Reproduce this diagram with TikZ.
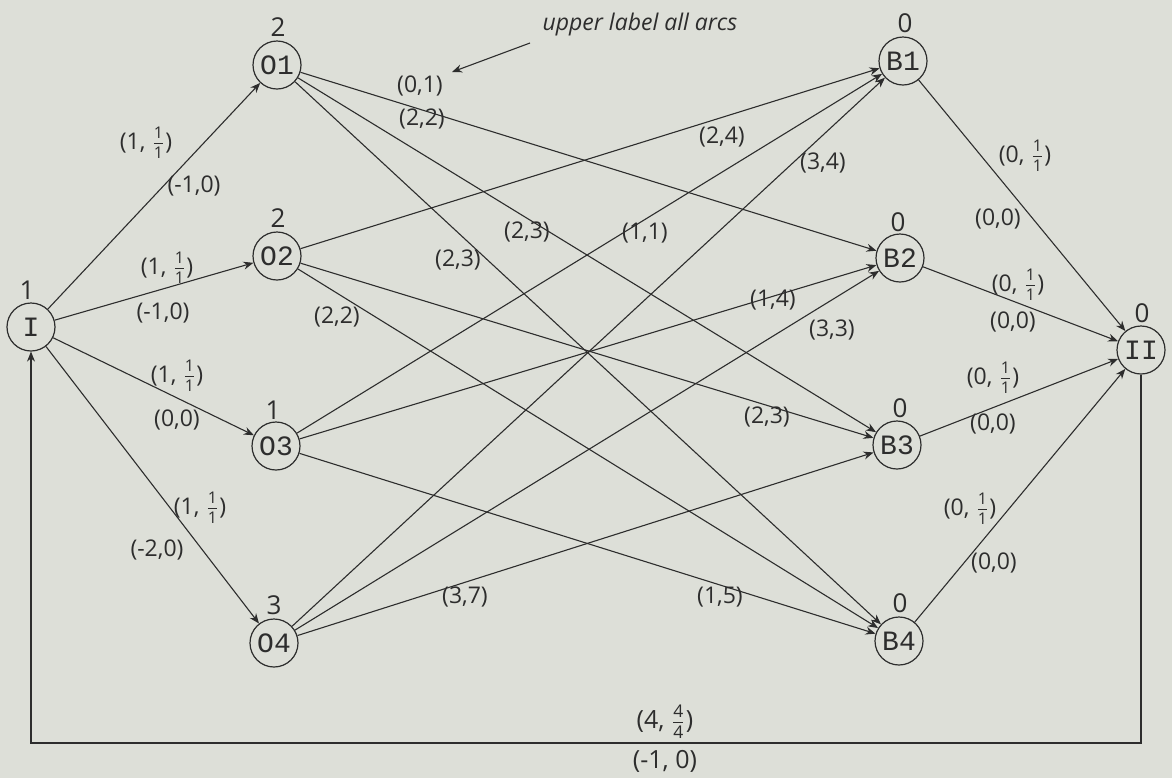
\documentclass[tikz,border=0pt]{standalone}
\usepackage{fontspec}
\usepackage{amsmath}
\setmainfont{Open Sans}
\newfontfamily\typew{Liberation Mono}
\usetikzlibrary{arrows.meta}
\definecolor{paper}{RGB}{221,223,216}
\definecolor{ink}{RGB}{45,45,45}
\newcommand{\fr}[2]{\ensuremath{\genfrac{}{}{0.5pt}{}{\text{#1\rule[-0.35ex]{0pt}{0.35ex}}}{\text{\rule{0pt}{1.6ex}#2}}}}
\begin{document}
\begin{tikzpicture}[x=0.5pt,y=-0.5pt,
  vtx/.style={circle,draw=ink,line width=0.6pt,minimum size=24pt,inner sep=0pt,font=\typew\fontsize{14}{14}\selectfont,text=ink},
  arc/.style={draw=ink,line width=0.55pt,-{Stealth[length=5pt,width=4pt]}},
  lab/.style={font=\fontsize{11.5}{12}\selectfont,text=ink,inner sep=0pt},
  num/.style={font=\fontsize{13}{13}\selectfont,text=ink,inner sep=0pt}]
\fill[paper] (0,0) rectangle (1172,778);
\useasboundingbox (0,0) rectangle (1172,778);
% vertices
\node[vtx] (I)  at (31,327)  {I};
\node[vtx] (O1) at (277,65)  {O1};
\node[vtx] (O2) at (277,256) {O2};
\node[vtx] (O3) at (276,446) {O3};
\node[vtx] (O4) at (274,643) {O4};
\node[vtx] (B1) at (903,61)  {B1};
\node[vtx] (B2) at (900,258) {B2};
\node[vtx] (B3) at (897,445) {B3};
\node[vtx] (B4) at (899,641) {B4};
\node[vtx] (II) at (1141,350) {II};
% numbers above vertices
\node[num] (nI)  at (27,290)  {1};
\node[num] (nO1) at (278,27)  {2};
\node[num] (nO2) at (278,218) {2};
\node[num] (nO3) at (273,410) {1};
\node[num] (nO4) at (274,605) {3};
\node[num] (nB1) at (905,23)  {0};
\node[num] (nB2) at (898,222) {0};
\node[num] (nB3) at (900,408) {0};
\node[num] (nB4) at (900,603) {0};
\node[num] (nII) at (1142,313) {0};
% source arcs
\draw[arc] (I) -- (O1);
\draw[arc] (I) -- (O2);
\draw[arc] (I) -- (O3);
\draw[arc] (I) -- (O4);
% middle arcs
\draw[arc] (O1) -- (B2);
\draw[arc] (O1) -- (B3);
\draw[arc] (O1) -- (B4);
\draw[arc] (O2) -- (B1);
\draw[arc] (O2) -- (B3);
\draw[arc] (O2) -- (B4);
\draw[arc] (O3) -- (B1);
\draw[arc] (O3) -- (B2);
\draw[arc] (O3) -- (B4);
\draw[arc] (O4) -- (B1);
\draw[arc] (O4) -- (B2);
\draw[arc] (O4) -- (B3);
% sink arcs
\draw[arc] (B1) -- (II);
\draw[arc] (B2) -- (II);
\draw[arc] (B3) -- (II);
\draw[arc] (B4) -- (II);
% return arc
\coordinate (bot) at (0,743);
\draw[arc] (II.south) -- (II.south |- bot) -- (I.south |- bot) -- (I.south);
% labels: source arcs
\node[lab] (l1a) at (146,143) {(1, \fr{1}{1})};
\node[lab] (l1b) at (194,186) {(-1,0)};
\node[lab] (l2a) at (167,268) {(1, \fr{1}{1})};
\node[lab] (l2b) at (163,313) {(-1,0)};
\node[lab] (l3a) at (177,376) {(1, \fr{1}{1})};
\node[lab] (l3b) at (177,420) {(0,0)};
\node[lab] (l4a) at (200,508) {(1, \fr{1}{1})};
\node[lab] (l4b) at (157,550) {(-2,0)};
% labels: middle arcs
\node[lab] (m01) at (420,86)  {(0,1)};
\node[lab] (m02) at (422,119) {(2,2)};
\node[lab,font=\itshape\fontsize{11.5}{12}\selectfont] (note) at (640,25) {upper label all arcs};
\coordinate (na) at (530,43);
\coordinate (nb) at (452,72);
\draw[arc] (na) -- (nb);
\node[lab] (m03) at (722,137) {(2,4)};
\node[lab] (m04) at (527,232) {(2,3)};
\node[lab] (m05) at (645,233) {(1,1)};
\node[lab] (m06) at (458,260) {(2,3)};
\node[lab] (m07) at (773,300) {(1,4)};
\node[lab] (m08) at (767,417) {(2,3)};
\node[lab] (m09) at (823,163) {(3,4)};
\node[lab] (m10) at (832,330) {(3,3)};
\node[lab] (m11) at (337,317) {(2,2)};
\node[lab] (m12) at (465,597) {(3,7)};
\node[lab] (m13) at (720,597) {(1,5)};
% labels: sink arcs
\node[lab] (r1a) at (1025,156) {(0, \fr{1}{1})};
\node[lab] (r1b) at (998,219)  {(0,0)};
\node[lab] (r2a) at (1018,285) {(0, \fr{1}{1})};
\node[lab] (r2b) at (1013,322) {(0,0)};
\node[lab] (r3a) at (993,378)  {(0, \fr{1}{1})};
\node[lab] (r3b) at (993,424)  {(0,0)};
\node[lab] (r4a) at (970,509)  {(0, \fr{1}{1})};
\node[lab] (r4b) at (994,563)  {(0,0)};
% labels: return arc
\node[lab,font=\fontsize{12.5}{13}\selectfont,anchor=south] (ra) at (665,739) {(4, \fr{4}{4})};
\node[lab,font=\fontsize{12.5}{13}\selectfont,anchor=north] (rb) at (665,750) {(-1, 0)};
\end{tikzpicture}
\end{document}
